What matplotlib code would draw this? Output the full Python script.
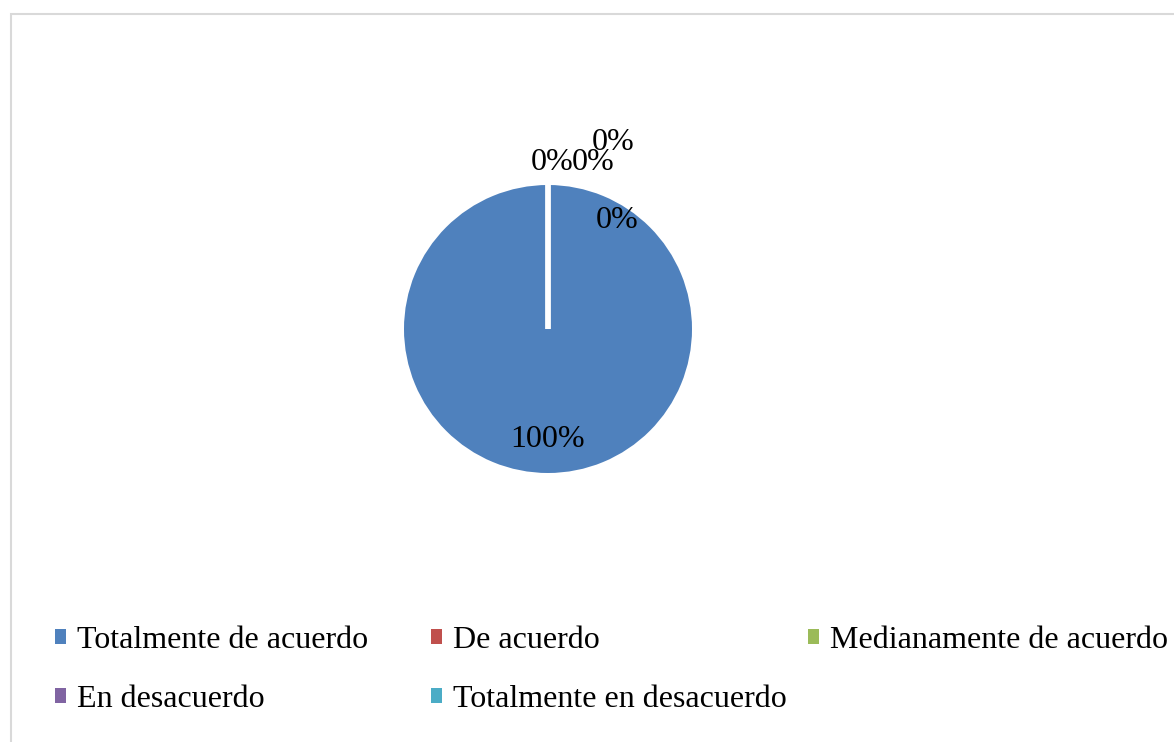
import matplotlib
matplotlib.use("Agg")
import matplotlib.pyplot as plt
from matplotlib.patches import Patch, Rectangle

plt.rcParams['font.family'] = ['Liberation Serif', 'DejaVu Serif']

categories = ["Totalmente de acuerdo", "De acuerdo", "Medianamente de acuerdo",
              "En desacuerdo", "Totalmente en desacuerdo"]
values = [100, 0, 0, 0, 0]
colors = ["#4F81BD", "#C0504D", "#9BBB59", "#8064A2", "#4BACC6"]

W, H = 1174, 742
fig = plt.figure(figsize=(W / 100, H / 100), dpi=100)
FS = 23

# chart border
fig.patches.append(Rectangle((10.5 / W, -0.1), 1.2, (H - 13.5) / H + 0.1,
                             transform=fig.transFigure, fill=False,
                             edgecolor="#d9d9d9", linewidth=1.5))

cx, cy, R = 548, 329, 144
ax = fig.add_axes([(cx - R) / W, (H - cy - R) / H, 2 * R / W, 2 * R / H])
wedges, texts, autotexts = ax.pie(
    values, colors=colors, startangle=90, counterclock=False,
    autopct='%1.0f%%', pctdistance=0.765,
    wedgeprops=dict(edgecolor='white', linewidth=3.5),
    textprops=dict(fontsize=FS, color='black'))
wedges[0].set_linewidth(0)
ax.set_xlim(-1, 1)
ax.set_ylim(-1, 1)

# Excel-style placement of the overlapping 0% labels (axes data units)
zero_label_pos = [(0.028, 1.155), (0.31, 1.155), (0.455, 1.295), (0.479, 0.755)]
for t, p in zip(autotexts[1:], zero_label_pos):
    t.set_position(p)

# legend, row-wise like Excel, three evenly spaced columns
columns = [[0, 3], [1, 4], [2]]
col_x = [55, 431, 808]
for idxs, x in zip(columns, col_x):
    handles = [Patch(facecolor=colors[i], edgecolor='none') for i in idxs]
    labels = [categories[i] for i in idxs]
    fig.legend(handles, labels, loc='upper left',
               bbox_to_anchor=(x / W, 1 - 626 / H),
               frameon=False, fontsize=FS, borderpad=0,
               borderaxespad=0, handlelength=0.35, handleheight=0.35,
               handletextpad=0.33, labelspacing=0.95)

fig.savefig("out.png", dpi=100)
